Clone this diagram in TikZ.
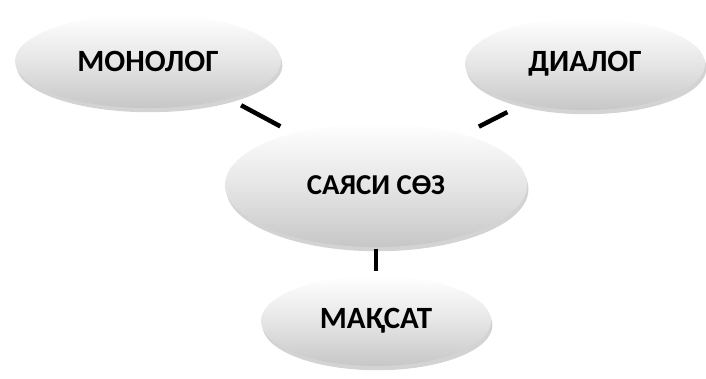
\documentclass[tikz,border=0pt]{standalone}
\usepackage{fontspec}
\setmainfont{Carlito}
\usetikzlibrary{shapes.geometric,shadows,positioning}

\begin{document}
\begin{tikzpicture}[x=0.025cm, y=-0.025cm,
    bubble/.style={ellipse, inner sep=0pt, draw=none,
        top color=white, bottom color=black!22, middle color=black!10,
        drop shadow={opacity=0.35, shadow xshift=1pt, shadow yshift=-3pt},
        font=\fontsize{22}{26}\selectfont\bfseries},
    link/.style={line width=3.2pt, black}]
    \useasboundingbox (0,0) rectangle (706,378);
    \node[bubble, minimum width=7.55cm, minimum height=3.1cm, font=\fontsize{20.5}{24}\selectfont\bfseries] (sayasi) at (376,185) {САЯСИ СӨЗ};
    \node[bubble, minimum width=6.65cm, minimum height=2.35cm] (monolog) at (148,61) {МОНОЛОГ};
    \node[bubble, minimum width=6.0cm, minimum height=2.3cm] (dialog) at (585,64) {ДИАЛОГ};
    \node[bubble, minimum width=5.75cm, minimum height=2.25cm] (maqsat) at (376,321) {МАҚСАТ};
    \draw[link, shorten <=10pt, shorten >=10pt] (monolog.-25) -- (sayasi.148);
    \draw[link, shorten <=13pt, shorten >=12pt] (dialog.213) -- (sayasi.30);
    \draw[link, shorten <=1pt, shorten >=3pt] (sayasi.south) -- (maqsat.north);
\end{tikzpicture}
\end{document}
